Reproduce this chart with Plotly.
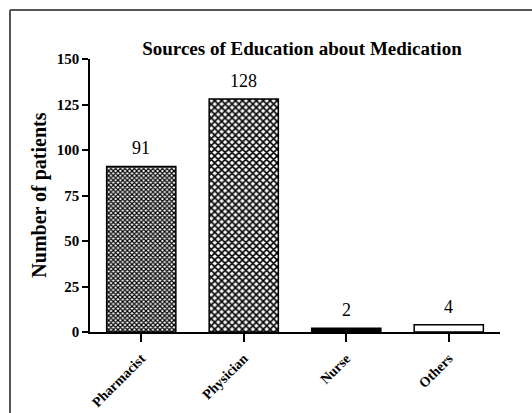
import plotly.graph_objects as go

categories = ["Pharmacist", "Physician", "Nurse", "Others"]
patients = [91, 128, 2, 4]
y_ticks = [0, 25, 50, 75, 100, 125, 150]

title_text = "Sources of Education about Medication"
y_title = "Number of patients"

SERIF = "Liberation Serif, Times New Roman, serif"

# marker colours (pattern foreground in "replace" mode)
fills = ["black", "black", "black", "white"]
shapes_pat = ["x", "x", "", ""]
pat_sizes = [3.3, 4.9, 8, 8]
pat_sol = [0.6, 0.55, 0.3, 0.3]

fig = go.Figure()
fig.add_trace(go.Bar(
    x=categories,
    y=patients,
    width=0.675,
    marker=dict(
        color=fills,
        line=dict(color="black", width=1.5),
        pattern=dict(shape=shapes_pat, size=pat_sizes, solidity=pat_sol,
                     fillmode="replace"),
    ),
    showlegend=False,
))

annotations = []
for c, v in zip(categories, patients):
    annotations.append(dict(
        x=c, y=v, text=str(v), showarrow=False, xref="x", yref="y",
        yanchor="bottom", yshift=6,
        font=dict(family=SERIF, size=18, color="black"),
    ))
annotations.append(dict(
    xref="paper", yref="paper", x=-0.124, y=0.5, text=y_title,
    textangle=-90, showarrow=False, xanchor="center", yanchor="middle",
    font=dict(family=SERIF, size=20, color="black", weight="bold"),
))

fig.update_layout(
    width=532, height=413,
    margin=dict(l=90, r=32, t=59, b=81, autoexpand=False),
    paper_bgcolor="white", plot_bgcolor="white",
    title=dict(text=title_text, x=0.517, xref="paper", xanchor="center",
               y=1 - 48 / 413, yref="container", yanchor="middle",
               font=dict(family=SERIF, size=19, color="black", weight="bold")),
    annotations=annotations,
    shapes=[
        dict(type="line", xref="paper", yref="paper", x0=-0.1951, x1=1.3,
             y0=1.1795, y1=1.1795, line=dict(color="#555555", width=2)),
        dict(type="line", xref="paper", yref="paper", x0=-0.1951, x1=-0.1951,
             y0=1.1795, y1=-0.5, line=dict(color="#555555", width=2)),
    ],
)
fig.update_xaxes(
    range=[-0.5, 3.5], showline=True, linecolor="black", linewidth=1.5,
    ticks="outside", ticklen=8, tickwidth=1.5, tickcolor="black",
    tickangle=-45, showgrid=False, zeroline=False, automargin=False,
    ticklabelstandoff=3,
    tickfont=dict(family=SERIF, size=14, color="black", weight="bold"),
)
fig.update_yaxes(
    range=[0, 150], tickvals=y_ticks, showline=True, linecolor="black",
    linewidth=1.5, ticks="outside", ticklen=6, tickwidth=1.5, tickcolor="black",
    showgrid=False, zeroline=False, automargin=False,
    tickfont=dict(family=SERIF, size=15, color="black", weight="bold"),
)

fig.write_html("out.html", config={"displayModeBar": False},
               post_script="document.body.style.margin='0';document.body.style.overflow='hidden';")
